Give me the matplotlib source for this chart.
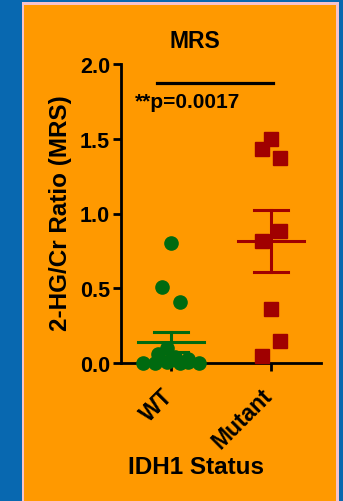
import numpy as np
import matplotlib
matplotlib.use("Agg")
import matplotlib.pyplot as plt
from matplotlib.patches import Rectangle
from matplotlib.transforms import ScaledTranslation

plt.rcParams['font.family'] = ['Liberation Sans', 'DejaVu Sans']
plt.rcParams['font.weight'] = 'bold'

# data
groups = ["WT", "Mutant"]
wt_vals = [0.80, 0.51, 0.41, 0.10, 0.06, 0.03, 0.04, 0.0, 0.0, 0.01, 0.0, 0.01, 0.0, 0.02]
mut_vals = [1.50, 1.43, 1.37, 0.88, 0.815, 0.36, 0.147, 0.045]
p_text = "**p=0.0017"

# horizontal jitter of the dots (category units)
wt_jit = [0.0, -0.09, 0.09, -0.04, -0.13, 0.17, 0.04, -0.28, -0.16, -0.04, 0.09, 0.17, 0.28, 0.0]
mut_jit = [0.0, -0.09, 0.09, 0.09, -0.09, 0.0, 0.09, -0.09]

BLUE = "#0868b0"
ORANGE = "#ff9900"
PINK = "#f6c4cc"
GREEN = "#006a10"
RED = "#a00000"

fig = plt.figure(figsize=(3.43, 5.02), dpi=100)
fig.patch.set_facecolor(BLUE)

# orange panel with thin pink frame
fig.patches.append(Rectangle((22 / 343, 0), 317 / 343, 499 / 502,
                             transform=fig.transFigure, facecolor=PINK, edgecolor="none", zorder=0))
fig.patches.append(Rectangle((24 / 343, 0), 312 / 343, 496 / 502,
                             transform=fig.transFigure, facecolor=ORANGE, edgecolor="none", zorder=0))

ax = fig.add_axes([121 / 343, 138 / 502, 200 / 343, 299 / 502])
ax.set_facecolor("none")
ax.set_zorder(2)

for i, (vals, jit, col, mk) in enumerate([(wt_vals, wt_jit, GREEN, "o"),
                                         (mut_vals, mut_jit, RED, "s")]):
    vals = np.array(vals)
    x = i + np.array(jit)
    ax.plot(x, vals, linestyle="none", marker=mk, ms=9.5, mfc=col, mec=col,
            clip_on=False, zorder=3)
    m = vals.mean()
    sem = vals.std(ddof=1) / np.sqrt(len(vals))
    ax.plot([i - 0.33, i + 0.33], [m, m], color=col, lw=2.2, zorder=4, clip_on=False)
    ax.plot([i, i], [m - sem, m + sem], color=col, lw=2.2, zorder=4)
    ax.plot([i - 0.17, i + 0.17], [m + sem, m + sem], color=col, lw=2.2, zorder=4)
    ax.plot([i - 0.17, i + 0.17], [m - sem, m - sem], color=col, lw=2.2, zorder=4)

# significance bar
ax.plot([-0.14, 1.02], [1.873, 1.873], color="black", lw=2.3, clip_on=False)
ax.text(-0.36, 1.746, p_text, fontsize=15, fontweight="bold", va="center", ha="left")

ax.set_xlim(-0.5, 1.5)
ax.set_ylim(0, 2.0)
ax.set_yticks([0.0, 0.5, 1.0, 1.5, 2.0])
ax.set_yticklabels(["0.0", "0.5", "1.0", "1.5", "2.0"])
ax.set_xticks([0, 1])
ax.set_xticklabels(groups, rotation=45, ha="right", rotation_mode="anchor")

for s in ["top", "right"]:
    ax.spines[s].set_visible(False)
for s in ["left", "bottom"]:
    ax.spines[s].set_linewidth(2)
    ax.spines[s].set_zorder(2)

ax.tick_params(axis="y", length=6, width=2, labelsize=15.5, pad=2)
ax.tick_params(axis="x", length=6, width=2, labelsize=16.5, pad=6)
for lab in ax.get_xticklabels() + ax.get_yticklabels():
    lab.set_fontweight("bold")

# nudge the rotated group labels so their ends sit under the ticks
shift = ScaledTranslation(-0.10, -0.04, fig.dpi_scale_trans)
for lab in ax.xaxis.get_majorticklabels():
    lab.set_transform(lab.get_transform() + shift)

fig.text(195 / 343, 1 - 42 / 502, "MRS", fontsize=16.5, fontweight="bold", ha="center", va="center")
fig.text(60 / 343, 1 - 213 / 502, "2-HG/Cr Ratio (MRS)", fontsize=17.5, fontweight="bold",
         ha="center", va="center", rotation=90)
fig.text(196 / 343, 1 - 468 / 502, "IDH1 Status", fontsize=17.5, fontweight="bold", ha="center", va="center")

fig.savefig("out.png", dpi=100, facecolor=BLUE)
